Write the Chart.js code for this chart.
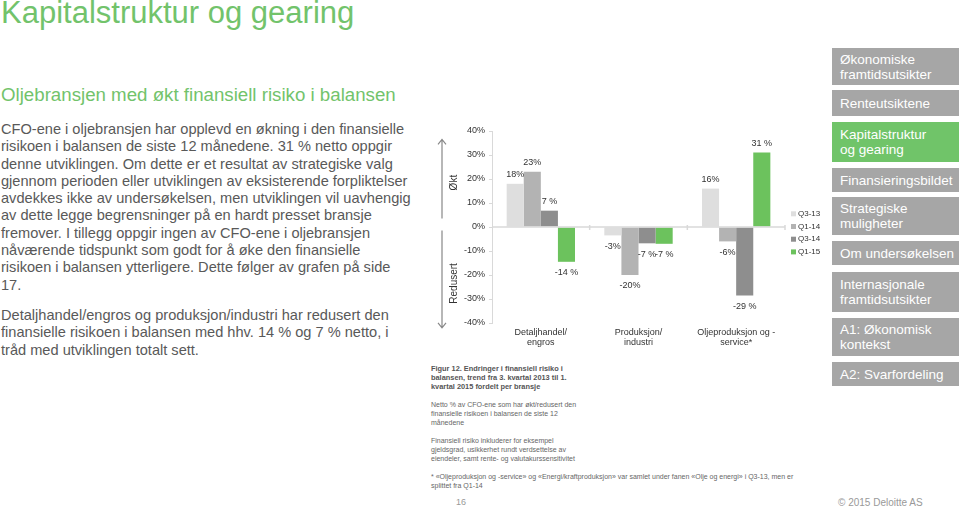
<!DOCTYPE html>
<html>
<head>
<meta charset="utf-8">
<script src="https://cdn.jsdelivr.net/npm/chart.js@4/dist/chart.umd.min.js"></script>
<style>
  body { margin:0; width:959px; height:507px; background:#fff; overflow:hidden; position:relative;
         font-family: Arial, "Liberation Sans", sans-serif; }
  .abs { position:absolute; white-space:nowrap; }
  #title { left:1px; top:-5px; font-size:31px; color:#72c36b; }
  #sub { left:1px; top:84px; font-size:18.7px; color:#72c36b; }
  .body { left:1px; font-size:14.6px; line-height:17.3px; color:#595959; }
  .note { left:431px; font-size:7px; line-height:9px; color:#666; }
  .nav { position:absolute; left:832px; width:127px; background:#a6a6a6; color:#fff;
         font-size:13.5px; line-height:15px; padding-left:8px; box-sizing:border-box;
         display:flex; flex-direction:column; justify-content:center; }
  .nav.on { background:#70c469; }
  #wrap { position:absolute; left:420px; top:110px; width:410px; height:245px; }
</style>
</head>
<body>
<div id="title" class="abs">Kapitalstruktur og gearing</div>
<div id="sub" class="abs">Oljebransjen med økt finansiell risiko i balansen</div>

<div class="abs body" style="top:121px">CFO-ene i oljebransjen har opplevd en økning i den finansielle<br>risikoen i balansen de siste 12 månedene. 31 % netto oppgir<br>denne utviklingen. Om dette er et resultat av strategiske valg<br>gjennom perioden eller utviklingen av eksisterende forpliktelser<br>avdekkes ikke av undersøkelsen, men utviklingen vil uavhengig<br>av dette legge begrensninger på en hardt presset bransje<br>fremover. I tillegg oppgir ingen av CFO-ene i oljebransjen<br>nåværende tidspunkt som godt for å øke den finansielle<br>risikoen i balansen ytterligere. Dette følger av grafen på side<br>17.</div>
<div class="abs body" style="top:307px">Detaljhandel/engros og produksjon/industri har redusert den<br>finansielle risikoen i balansen med hhv. 14 % og 7 % netto, i<br>tråd med utviklingen totalt sett.</div>

<div id="wrap"><canvas id="c"></canvas></div>

<div class="abs note" style="top:364px; font-weight:bold; font-size:7.4px; color:#555">Figur 12. Endringer i finansiell risiko i<br>balansen, trend fra 3. kvartal 2013 til 1.<br>kvartal 2015 fordelt per bransje</div>
<div class="abs note" style="top:400px">Netto % av CFO-ene som har økt/redusert den<br>finansielle risikoen i balansen de siste 12<br>månedene</div>
<div class="abs note" style="top:436px">Finansiell risiko inkluderer for eksempel<br>gjeldsgrad, usikkerhet rundt verdsettelse av<br>eiendeler, samt rente- og valutakurssensitivitet</div>
<div class="abs note" style="top:472px">* «Oljeproduksjon og -service» og «Energi/kraftproduksjon» var samlet under fanen «Olje og energi» i Q3-13, men er<br>splittet fra Q1-14</div>
<div class="abs" style="left:456px; top:497px; font-size:9px; color:#999">16</div>
<div class="abs" style="left:838px; top:497px; font-size:10px; color:#999">© 2015 Deloitte AS</div>

<div class="nav" style="top:48px; height:37px">Økonomiske<br>framtidsutsikter</div>
<div class="nav" style="top:90px; height:26px">Renteutsiktene</div>
<div class="nav on" style="top:122px; height:40px">Kapitalstruktur<br>og gearing</div>
<div class="nav" style="top:168px; height:24px">Finansieringsbildet</div>
<div class="nav" style="top:197px; height:38px">Strategiske<br>muligheter</div>
<div class="nav" style="top:241px; height:24px">Om undersøkelsen</div>
<div class="nav" style="top:272px; height:40px">Internasjonale<br>framtidsutsikter</div>
<div class="nav" style="top:318px; height:38px">A1: Økonomisk<br>kontekst</div>
<div class="nav" style="top:362px; height:24px">A2: Svarfordeling</div>

<script>
// bransjer
var categories = [['Detaljhandel/', 'engros'], ['Produksjon/', 'industri'], ['Oljeproduksjon og -', 'service*']];
var periods = ['Q3-13', 'Q1-14', 'Q3-14', 'Q1-15'];

// netto % okt/redusert
var q3_13 = [18, -3.5, 16];
var q1_14 = [23, -20, -6];
var q3_14 = [6.8, -6.8, -28.5];
var q1_15 = [-14.5, -7, 31];

// etiketter slik de star i figuren
var q3_13Labels = ['18%', '-3%', '16%'];
var q1_14Labels = ['23%', '-20%', '-6%'];
var q3_14Labels = ['7 %', '-7 %', '-29 %'];
var q1_15Labels = ['-14 %', '-7 %', '31 %'];

var yTicks = [40, 30, 20, 10, 0, -10, -20, -30, -40];

var colors = ['#dedede', '#b3b3b3', '#8e8e8e', '#6cc25d'];
var series = [q3_13, q1_14, q3_14, q1_15];
var seriesLabels = [q3_13Labels, q1_14Labels, q3_14Labels, q1_15Labels];
var FONT = 'Arial, "Liberation Sans", sans-serif';

var decor = {
  id: 'decor',
  afterDatasetsDraw: function(chart) {
    var ctx = chart.ctx, a = chart.chartArea;
    var x = chart.scales.x, y = chart.scales.y;
    var y0 = y.getPixelForValue(0);
    ctx.save();
    // nullinje med deleskiller
    ctx.strokeStyle = '#d9d9d9';
    ctx.lineWidth = 1.5;
    ctx.beginPath();
    ctx.moveTo(a.left, y0); ctx.lineTo(a.right, y0);
    for (var i = 0; i < categories.length; i++) {
      var bx = (i < categories.length - 1)
        ? (x.getPixelForValue(i) + x.getPixelForValue(i + 1)) / 2 : a.right;
      ctx.moveTo(bx, y0 - 2); ctx.lineTo(bx, y0 + 3);
    }
    ctx.stroke();

    // verdier
    ctx.fillStyle = '#333';
    ctx.font = '9px ' + FONT;
    ctx.textAlign = 'center';
    ctx.textBaseline = 'middle';
    chart.data.datasets.forEach(function(ds, di) {
      chart.getDatasetMeta(di).data.forEach(function(bar, j) {
        var v = ds.data[j];
        var ty = v >= 0 ? bar.y - 9 : bar.y + 11;
        ctx.fillText(seriesLabels[di][j], bar.x, ty);
      });
    });

    // piler og aksetitler
    var ax = a.left - 50;
    ctx.strokeStyle = '#888';
    ctx.lineWidth = 1.2;
    var up1 = y.getPixelForValue(36.5), up2 = y.getPixelForValue(3.5);
    var dn1 = y.getPixelForValue(-1.5), dn2 = y.getPixelForValue(-42);
    ctx.beginPath();
    ctx.moveTo(ax, up2); ctx.lineTo(ax, up1);
    ctx.moveTo(ax - 4, up1 + 5); ctx.lineTo(ax, up1); ctx.lineTo(ax + 4, up1 + 5);
    ctx.moveTo(ax, dn1); ctx.lineTo(ax, dn2);
    ctx.moveTo(ax - 4, dn2 - 5); ctx.lineTo(ax, dn2); ctx.lineTo(ax + 4, dn2 - 5);
    ctx.stroke();

    ctx.fillStyle = '#333';
    ctx.font = '10px ' + FONT;
    ctx.translate(a.left - 38, y.getPixelForValue(18.5));
    ctx.rotate(-Math.PI / 2);
    ctx.fillText('Økt', 0, 0);
    ctx.rotate(Math.PI / 2);
    ctx.translate(0, y.getPixelForValue(-23.5) - y.getPixelForValue(18.5));
    ctx.rotate(-Math.PI / 2);
    ctx.fillText('Redusert', 0, 0);
    ctx.restore();

    // forklaring
    ctx.save();
    ctx.font = '8px ' + FONT;
    ctx.textBaseline = 'middle';
    var lx = a.right + 6, ly = y.getPixelForValue(5.5);
    periods.forEach(function(p, k) {
      var yy = ly + k * 12.7;
      ctx.fillStyle = colors[k];
      ctx.fillRect(lx, yy - 2.5, 5, 5);
      ctx.fillStyle = '#333';
      ctx.fillText(p, lx + 7, yy);
    });
    ctx.restore();
  }
};

new Chart(document.getElementById('c'), {
  type: 'bar',
  data: {
    labels: categories,
    datasets: periods.map(function(p, i) {
      return { label: p, data: series[i], backgroundColor: colors[i],
               categoryPercentage: 0.7, barPercentage: 1.0 };
    })
  },
  options: {
    responsive: true,
    maintainAspectRatio: false,
    animation: false,
    layout: { padding: { top: 21, right: 45, left: 0, bottom: 0 } },
    plugins: { legend: { display: false }, tooltip: { enabled: false } },
    scales: {
      x: {
        grid: { display: false },
        border: { display: false },
        ticks: { color: '#333', font: { size: 9, family: FONT, lineHeight: 1.15 }, padding: -4,
                 maxRotation: 0, autoSkip: false },
        afterFit: function(s) { s.height = 32; }
      },
      y: {
        min: -40, max: 40,
        afterBuildTicks: function(s) { s.ticks = yTicks.map(function(v) { return { value: v }; }); },
        grid: { drawOnChartArea: false, drawTicks: true, tickLength: 3, color: '#d9d9d9' },
        border: { color: '#d9d9d9' },
        ticks: { color: '#333', font: { size: 9, family: FONT }, padding: 4,
                 callback: function(v) { return v + '%'; } },
        afterFit: function(s) { s.width = 72; }
      }
    }
  },
  plugins: [decor]
});
</script>
</body>
</html>
